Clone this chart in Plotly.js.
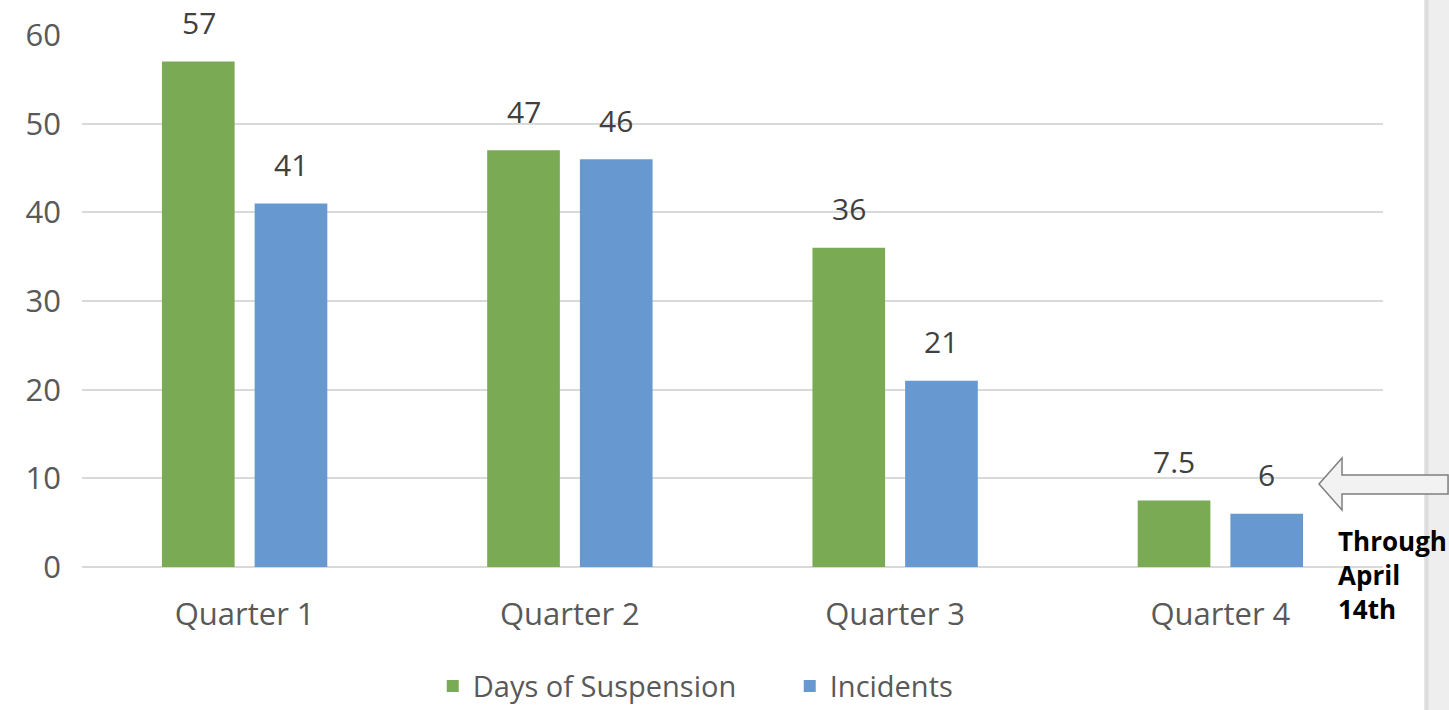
<!DOCTYPE html>
<html>
<head>
<meta charset="utf-8">
<script src="https://cdn.plot.ly/plotly-3.0.1.min.js"></script>
<style>html,body{margin:0;padding:0;background:#fff;}#chart{width:1449px;height:710px;}</style>
</head>
<body>
<div id="chart"></div>
<script>
const categories = ["Quarter 1", "Quarter 2", "Quarter 3", "Quarter 4"];
const daysOfSuspension = [57, 47, 36, 7.5];
const incidents = [41, 46, 21, 6];
const yTicks = [0, 10, 20, 30, 40, 50, 60];
const noteText = "Through<br>April<br>14th";

const green = "#7BAA55";
const blue = "#6799D0";
const font = "'Open Sans', sans-serif";

const traces = [
  {type: "bar", name: "Days of Suspension", x: categories, y: daysOfSuspension,
   marker: {color: green}, hoverinfo: "x+y"},
  {type: "bar", name: "Incidents", x: categories, y: incidents,
   marker: {color: blue}, hoverinfo: "x+y"}
];

const annotations = [];
const series = [[daysOfSuspension, -46], [incidents, 46]];
series.forEach(([vals, xs]) => {
  vals.forEach((v, i) => {
    annotations.push({x: categories[i], y: v, xref: "x", yref: "y", text: String(v),
      showarrow: false, xshift: xs, yshift: 39, yanchor: "middle",
      font: {family: font, size: 30, color: "#404040"}});
  });
});
annotations.push({x: 0.9635, y: -0.015, xref: "paper", yref: "paper", text: noteText,
  showarrow: false, xanchor: "left", yanchor: "middle", align: "left",
  font: {family: "'Open Sans', sans-serif", size: 26, color: "#000", weight: 700}});

const layout = {
  width: 1449, height: 710,
  margin: {l: 82, r: 66, t: 35, b: 143, autoexpand: false},
  paper_bgcolor: "#fff", plot_bgcolor: "rgba(0,0,0,0)",
  barmode: "group", bargap: 0.43, bargroupgap: 0.216,
  showlegend: true,
  legend: {orientation: "h", x: 0.2696, xanchor: "left", y: -0.224, yanchor: "middle",
    entrywidth: 312, entrywidthmode: "pixels",
    font: {family: font, size: 29, color: "#595959"}, itemwidth: 30, traceorder: "normal"},
  xaxis: {type: "category", showgrid: false, zeroline: false, showline: false,
    ticks: "", ticklabelstandoff: 26, tickfont: {family: font, size: 31, color: "#595959"}},
  yaxis: {range: [0, 60], tickvals: yTicks, ticktext: yTicks.map(String),
    showgrid: true, gridcolor: "#D9D9D9", gridwidth: 2, zeroline: true, zerolinecolor: "#D9D9D9", zerolinewidth: 2,
    showline: false, ticks: "", ticklabelstandoff: 20,
    tickfont: {family: font, size: 31, color: "#595959"}},
  annotations: annotations,
  shapes: [
    {type: "rect", xref: "paper", yref: "paper", x0: 1.0315, x1: 1.1, y0: -0.5, y1: 1.2,
     fillcolor: "#EEEEEE", line: {width: 0}, layer: "below"},
    {type: "line", xref: "paper", yref: "paper", x0: 1.0335, x1: 1.0335, y0: -0.5, y1: 1.2,
     line: {color: "#DDDDDD", width: 4}, layer: "below"},
    {type: "path", xref: "paper", yref: "paper",
     path: "M 0.9508 0.156 L 0.9685 0.2049 L 0.9685 0.1729 L 1.0500 0.1729 L 1.0500 0.1372 L 0.9685 0.1372 L 0.9685 0.1071 Z",
     fillcolor: "#F2F2F2", line: {color: "#7F7F7F", width: 1.5}, layer: "above"}
  ]
};

Plotly.newPlot("chart", traces, layout, {displayModeBar: false, staticPlot: true});
</script>
</body>
</html>
